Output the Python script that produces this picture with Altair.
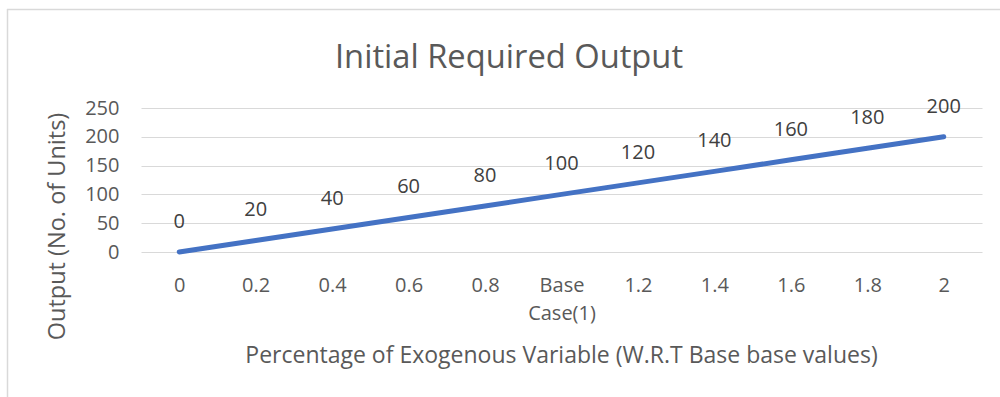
import altair as alt
import pandas as pd

categories = ["0", "0.2", "0.4", "0.6", "0.8", "Base\nCase(1)", "1.2", "1.4", "1.6", "1.8", "2"]
outputs = [0, 20, 40, 60, 80, 100, 120, 140, 160, 180, 200]
y_ticks = [0, 50, 100, 150, 200, 250]
chart_title = "Initial Required Output"

df = pd.DataFrame({"cat": categories, "out": outputs})

FONT = "Open Sans"
GRAY = "#595959"

x_enc = alt.X(
    "cat:N",
    sort=categories,
    scale=alt.Scale(type="point", padding=0.5),
    axis=alt.Axis(
        title="Percentage of Exogenous Variable (W.R.T Base base values)",
        labelExpr="split(datum.label, '\\n')",
        labelAngle=0,
        labelFontSize=20,
        labelColor=GRAY,
        labelFont=FONT,
        labelPadding=23,
        labelLineHeight=28,
        labelBaseline="top",
        labelOverlap=False,
        domain=False,
        ticks=False,
        grid=False,
        titleFontSize=23,
        titleFontWeight="normal",
        titleColor=GRAY,
        titleFont=FONT,
        titleX=420,
        titleY=103,
        titleBaseline="middle",
        titleAlign="center",
    ),
)

y_enc = alt.Y(
    "out:Q",
    scale=alt.Scale(domain=[0, 250], nice=False, zero=True),
    axis=alt.Axis(
        title="Output (No. of Units)",
        values=y_ticks,
        tickCount=6,
        labelFontSize=20,
        labelColor=GRAY,
        labelFont=FONT,
        labelPadding=22,
        labelOverlap=False,
        domain=False,
        ticks=False,
        grid=True,
        gridColor="#d9d9d9",
        gridWidth=1,
        titleFontSize=23.5,
        titleFontWeight="normal",
        titleColor=GRAY,
        titleFont=FONT,
        titleX=-84,
        titleY=118,
        titleAngle=-90,
        titleBaseline="middle",
        titleAlign="center",
    ),
)

base = alt.Chart(df).encode(x=x_enc, y=y_enc)

line = base.mark_line(color="#4472C4", strokeWidth=5, strokeCap="round", strokeJoin="round")

labels = base.mark_text(dy=-30, fontSize=20, font=FONT, color="#404040").encode(
    text=alt.Text("out:Q"),
)

one = alt.Chart(pd.DataFrame({"a": [0]}))
border_top = one.mark_rule(color="#d9d9d9", strokeWidth=1.5).encode(
    x=alt.value(-134), x2=alt.value(870), y=alt.value(-98.5)
)
border_left = one.mark_rule(color="#d9d9d9", strokeWidth=1.5).encode(
    x=alt.value(-133.5), y=alt.value(-99), y2=alt.value(300)
)
title_mark = one.mark_text(
    fontSize=32.7, font=FONT, color=GRAY, baseline="alphabetic", align="center"
).encode(x=alt.value(368), y=alt.value(-40), text=alt.value(chart_title))

chart = (
    alt.layer(line, labels, border_top, border_left, title_mark)
    .properties(
        width=841,
        height=144,
        autosize=alt.AutoSizeParams(type="none"),
        padding={"left": 141, "top": 108, "right": 18, "bottom": 145},
        view=alt.ViewBackground(stroke="transparent", strokeWidth=0),
    )
    .configure(background="white", view=alt.ViewConfig(stroke="transparent", strokeWidth=0))
)

chart.save("out.html", embed_options={"renderer": "svg", "actions": False})
